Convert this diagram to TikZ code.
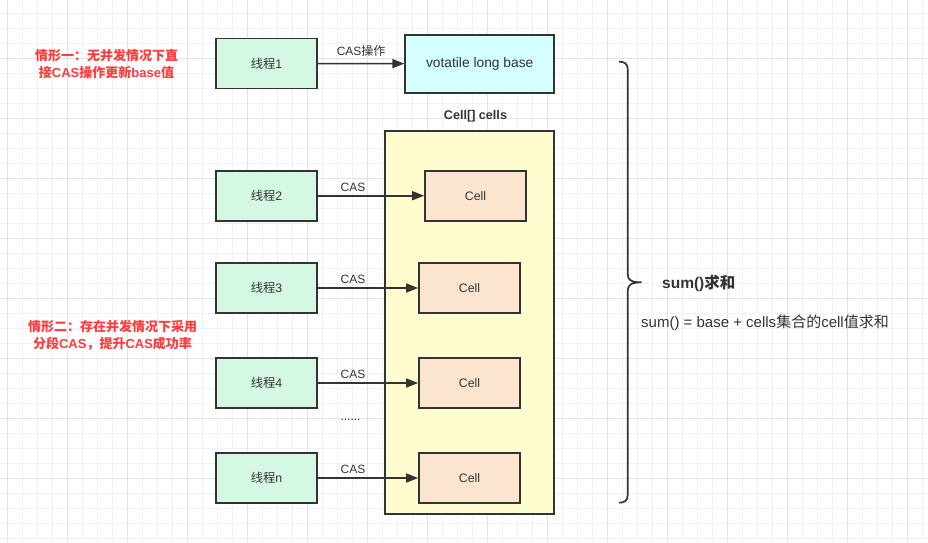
\documentclass[tikz,border=0pt]{standalone}
\usepackage{fontspec}
\setmainfont{Liberation Sans}
\newfontfamily\cjk{Noto Sans CJK SC}
\usetikzlibrary{arrows.meta}
\definecolor{ink}{HTML}{333333}
\definecolor{redtxt}{HTML}{FF3B3B}
\definecolor{threadfill}{HTML}{D5F8E5}
\definecolor{basefill}{HTML}{D5FFFF}
\definecolor{arrfill}{HTML}{FFFDD0}
\definecolor{cellfill}{HTML}{FBE5CF}
\definecolor{gridminor}{HTML}{F2F2F2}
\definecolor{gridmajor}{HTML}{E3E3E3}
\tikzset{
  box/.style={draw=ink, line width=1.7pt, minimum width=101pt, minimum height=50pt, inner sep=0pt, text=ink, font=\fontsize{12.3}{14}\selectfont},
  thread/.style={box, fill=threadfill},
  cellbox/.style={box, fill=cellfill},
  conn/.style={draw=ink, line width=1.6pt, -{Triangle[length=12pt,width=9pt]}},
  lbl/.style={text=ink, font=\fontsize{12}{14}\selectfont, inner sep=0pt},
  note/.style={text=redtxt, font=\bfseries\fontsize{13}{16.5}\selectfont, align=center, inner sep=0pt},
}
\begin{document}
\begin{tikzpicture}[x=1pt, y=-1pt]
\useasboundingbox (0,0) rectangle (928,542);
\fill[white] (0,0) rectangle (928,542);
% grid
\foreach \i in {0,...,61} {\draw[gridminor, line width=0.8pt] (7.5+15*\i,0) -- (7.5+15*\i,542);}
\foreach \i in {0,...,36} {\draw[gridminor, line width=0.8pt] (0,13.5+15*\i) -- (928,13.5+15*\i);}
\foreach \i in {0,...,15} {\draw[gridmajor, line width=0.8pt] (7.5+60*\i,0) -- (7.5+60*\i,542);}
\foreach \i in {0,...,8} {\draw[gridmajor, line width=0.8pt] (0,-1.5+60*\i) -- (928,-1.5+60*\i);}

% notes
\node[note] (n1) at (106.5,64) {{\cjk 情形一：无并发情况下直}\\{\cjk 接}CAS{\cjk 操作更新}base{\cjk 值}};
\node[note] (n2) at (112.5,335.5) {{\cjk 情形二：存在并发情况下采用}\\{\cjk 分段}CAS{\cjk ，提升}CAS{\cjk 成功率}};

% base
\node[thread] (t1) at (266.5,63.5) {{\cjk 线程}1};
\node[box, fill=basefill, minimum width=149pt, minimum height=58pt, font=\fontsize{13.8}{16}\selectfont] (base) at (479.7,63.7) {votatile long base};
\draw[conn] (t1) -- (base) node[lbl, midway, above=6pt] {CAS{\cjk 操作}};

% cells container
\node[box, fill=arrfill, minimum width=169pt, minimum height=383pt] (cells) at (469.3,322.5) {};
\node[lbl, font=\bfseries\fontsize{12.6}{14}\selectfont] (cellslbl) at (475.5,116) {Cell[] cells};

\node[thread] (t2) at (266.5,195.7) {{\cjk 线程}2};
\node[thread] (t3) at (266.5,288) {{\cjk 线程}3};
\node[thread] (t4) at (266.5,383) {{\cjk 线程}4};
\node[thread] (tn) at (266.5,478) {{\cjk 线程}n};

\node[cellbox] (c1) at (475.5,195.7) {Cell};
\node[cellbox] (c2) at (469.5,288) {Cell};
\node[cellbox] (c3) at (469.5,383) {Cell};
\node[cellbox] (cn) at (469.5,478) {Cell};

\draw[conn] (t2) -- (c1) node[lbl, pos=0.33, above=3.5pt] {CAS};
\draw[conn] (t3) -- (c2) node[lbl, pos=0.35, above=3.5pt] {CAS};
\draw[conn] (t4) -- (c3) node[lbl, pos=0.35, above=3.5pt] {CAS};
\draw[conn] (tn) -- (cn) node[lbl, pos=0.35, above=3.5pt] {CAS};
\node[lbl] (dots) at (350.5,420) {......};

% brace
\draw[ink, line width=1.7pt] (619,61.7) .. controls (624,61.7) and (627.7,63) .. (627.7,70)
  -- (627.7,274) .. controls (627.7,280) and (631,282.3) .. (641.7,282.3)
  .. controls (631,282.3) and (627.7,285) .. (627.7,291)
  -- (627.7,495) .. controls (627.7,501) and (624,502.7) .. (619,502.7);
\node[lbl, anchor=west, font=\bfseries\fontsize{15.5}{17}\selectfont] (sumt) at (662,283) {sum(){\cjk 求和}};
\node[lbl, anchor=west, font=\fontsize{15}{17}\selectfont] (sumd) at (641,323) {sum() = base + cells{\cjk 集合的}cell{\cjk 值求和}};
\end{tikzpicture}
\end{document}
